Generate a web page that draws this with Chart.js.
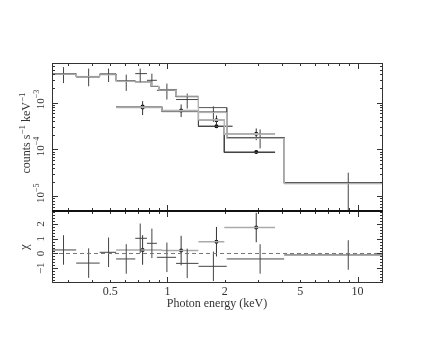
<!DOCTYPE html>
<html>
<head>
<meta charset="utf-8">
<script src="https://cdn.jsdelivr.net/npm/chart.js@4.4.1/dist/chart.umd.min.js"></script>
<style>
  html, body { margin: 0; background: #fff; }
  #wrap { position: relative; width: 436px; height: 337px; }
  #wrap canvas { position: absolute; left: 0; top: 0; }
</style>
</head>
<body>
<div id="wrap">
  <canvas id="spec" width="436" height="337"></canvas>
  <canvas id="resid" width="436" height="337"></canvas>
</div>
<script>
// ---- spectrum without markers (keV, counts/s/keV) ----
const pnE    = [0.284, 0.385, 0.49, 0.607, 0.719, 0.828, 0.993, 1.27, 1.744, 3.07, 8.93];
const pnLo   = [0.247, 0.331, 0.44, 0.537, 0.677, 0.78, 0.88, 1.11, 1.455, 2.05, 4.11];
const pnHi   = [0.331, 0.44, 0.537, 0.677, 0.78, 0.88, 1.11, 1.455, 2.05, 4.11, 13.6];
const pnRate = [4.0e-3, 3.5e-3, 4.07e-3, 2.84e-3, 4.14e-3, 2.98e-3, 1.83e-3, 1.16e-3, 6.3e-4, 1.77e-4, 1.95e-5];
const pnUp   = [5.7e-3, 5.3e-3, 5.3e-3, 3.94e-3, 5.3e-3, 4.14e-3, 2.54e-3, 1.55e-3, 8.3e-4, 2.67e-4, 3.2e-5];
const pnDn   = [2.6e-3, 2.22e-3, 2.74e-3, 1.77e-3, 2.6e-3, 2.15e-3, 1.16e-3, 7.45e-4, 3.87e-4, 1.05e-4, 1e-6];

// ---- spectra with dots ----
const m1E    = [0.74, 1.18, 1.81, 2.93];
const m1Lo   = [0.537, 0.935, 1.455, 1.99];
const m1Hi   = [0.935, 1.455, 1.99, 3.68];
const m1Rate = [7.8e-4, 6.75e-4, 4.2e-4, 2.15e-4];
const m1Up   = [1.07e-3, 9.1e-4, 5.3e-4, 2.8e-4];
const m1Dn   = [5.4e-4, 4.9e-4, 3.2e-4, 1.58e-4];

const m2E    = [0.74, 1.81, 2.93];
const m2Lo   = [0.537, 1.455, 1.99];
const m2Hi   = [0.935, 2.2, 3.68];
const m2Rate = [8.2e-4, 3.13e-4, 8.8e-5];
const m2Up   = [8.8e-4, 3.4e-4, 9.5e-5];
const m2Dn   = [7.6e-4, 2.9e-4, 8.1e-5];

// ---- folded models (bin edges + values) ----
const pnEdges  = [0.247, 0.331, 0.44, 0.537, 0.677, 0.82, 0.90, 1.11, 1.455, 2.05, 4.11, 13.6];
const pnModel  = [4.1e-3, 3.6e-3, 4.0e-3, 2.9e-3, 2.75e-3, 2.2e-3, 1.9e-3, 1.33e-3, 7.8e-4, 1.8e-4, 1.95e-5];
const pnModelB = [4.0e-3, 3.55e-3, 3.9e-3, 2.8e-3, 2.7e-3, 2.25e-3, 1.85e-3, 1.38e-3, 6.1e-4, 1.72e-4, 1.85e-5];
const mEdges   = [0.537, 0.935, 1.455, 1.99, 3.68];
const m1Model  = [8.0e-4, 6.7e-4, 4.3e-4, 2.1e-4];
const m2Model  = [8.1e-4, 6.4e-4, 3.1e-4, 8.6e-5];

// ---- residuals (chi) ----
const pnChi    = [0.24, -0.65, 0.08, -0.37, 1.03, 0.69, -0.26, -0.67, -0.87, -0.37, -0.1];
const pnChiErr = [1, 1, 1, 1, 1, 1, 1, 1, 1, 1, 1];
const m1Chi    = [0.24, 0.2, 0.8, 1.76];
const m1ChiErr = [1, 1, 1, 1];

// ---- axes ----
const xMin = 0.247, xMax = 13.6;
const yMin = 4.87e-6, yMax = 6.97e-3;
const chiMin = -2.0, chiMax = 2.88;
const xLabelTicks = [0.5, 1, 2, 5, 10];
const xMajorTicks = [1, 10];
const xMinorTicks = [0.3, 0.4, 0.5, 0.6, 0.7, 0.8, 0.9, 2, 3, 4, 5, 6, 7, 8, 9];
const yTopTicks = [1e-3, 1e-4, 1e-5];
const yTopExp = ['\u22123', '\u22124', '\u22125'];
const chiTicks = [-1, 0, 1, 2];

const FONT = '"Liberation Serif", "DejaVu Serif", serif';
const INK = '#333';

function hBars(lo, hi, v) {
  const out = [];
  v.forEach((y, i) => out.push({ x: lo[i], y }, { x: hi[i], y }, { x: hi[i], y: null }));
  return out;
}
function vBars(e, dn, up) {
  const out = [];
  e.forEach((x, i) => out.push({ x, y: dn[i] }, { x, y: up[i] }, { x, y: null }));
  return out;
}
function steps(edges, vals) {
  const out = [];
  vals.forEach((y, i) => out.push({ x: edges[i], y }, { x: edges[i + 1], y }));
  return out;
}
function pts(e, v) { return e.map((x, i) => ({ x, y: v[i] })); }
const plus = (a, b) => a.map((v, i) => v + b[i]);
const minus = (a, b) => a.map((v, i) => v - b[i]);

function lineSet(data, color, width, dash) {
  return { type: 'line', data, borderColor: color, borderWidth: width, pointRadius: 0,
           spanGaps: false, borderDash: dash || [], fill: false };
}
function dotSet(data) {
  return { type: 'scatter', data, showLine: false, pointRadius: 2, pointBackgroundColor: '#000',
           pointBorderColor: '#000', pointBorderWidth: 0 };
}

// rotated text with superscripts, centred on (x,y), reading bottom to top
function rotText(ctx, parts, x, y, size) {
  ctx.save();
  ctx.translate(x, y);
  ctx.rotate(-Math.PI / 2);
  ctx.textBaseline = 'middle';
  ctx.textAlign = 'left';
  const supSize = Math.round(size * 0.72);
  let w = 0;
  parts.forEach(([t, sup]) => { ctx.font = (sup ? supSize : size) + 'px ' + FONT; w += ctx.measureText(t).width; });
  let cx = -w / 2;
  parts.forEach(([t, sup]) => {
    ctx.font = (sup ? supSize : size) + 'px ' + FONT;
    ctx.fillText(t, cx, sup ? -size * 0.4 : 0);
    cx += ctx.measureText(t).width;
  });
  ctx.restore();
}

function drawTicks(ctx, a, sx, sy, yMajor, yMinor) {
  ctx.strokeStyle = INK;
  ctx.lineWidth = 1;
  ctx.beginPath();
  const xt = (v, len) => {
    const p = Math.round(sx.getPixelForValue(v)) + 0.5;
    ctx.moveTo(p, a.top); ctx.lineTo(p, a.top + len);
    ctx.moveTo(p, a.bottom); ctx.lineTo(p, a.bottom - len);
  };
  const yt = (v, len) => {
    const p = Math.round(sy.getPixelForValue(v)) + 0.5;
    ctx.moveTo(a.left, p); ctx.lineTo(a.left + len, p);
    ctx.moveTo(a.right, p); ctx.lineTo(a.right - len, p);
  };
  xMajorTicks.forEach(v => xt(v, 6));
  xMinorTicks.forEach(v => xt(v, 3));
  yMajor.forEach(v => yt(v, 6));
  yMinor.forEach(v => yt(v, 3));
  ctx.stroke();
  ctx.strokeRect(a.left + 0.5, a.top + 0.5, a.right - a.left - 1, a.bottom - a.top - 1);
}

const specFrame = {
  id: 'specFrame',
  afterDatasetsDraw(chart) {
    const { ctx, chartArea: a, scales } = chart;
    const minors = [];
    for (let d = -6; d <= -3; d++) for (let k = 2; k <= 9; k++) {
      const v = k * Math.pow(10, d);
      if (v > yMin && v < yMax) minors.push(v);
    }
    ctx.save();
    drawTicks(ctx, a, scales.x, scales.y, yTopTicks, minors);
    ctx.fillStyle = INK;
    yTopTicks.forEach((v, i) => {
      const p = scales.y.getPixelForValue(v);
      rotText(ctx, [['10', false], [yTopExp[i], true]], 41, p - 3, 11);
    });
    rotText(ctx, [['counts s', false], ['\u22121', true], [' keV', false], ['\u22121', true]], 27, 133, 12);
    ctx.restore();
  }
};

const residFrame = {
  id: 'residFrame',
  afterDatasetsDraw(chart) {
    const { ctx, chartArea: a, scales } = chart;
    const minors = [];
    for (let i = -10; i <= 14; i++) if (i % 5 !== 0) minors.push(i / 5);
    ctx.save();
    drawTicks(ctx, a, scales.x, scales.y, chiTicks, minors);
    // heavy separator between the panels
    ctx.strokeStyle = '#111';
    ctx.lineWidth = 2;
    ctx.beginPath(); ctx.moveTo(a.left, a.top); ctx.lineTo(a.right, a.top); ctx.stroke();
    ctx.fillStyle = INK;
    chiTicks.forEach(v => {
      rotText(ctx, [[v < 0 ? '\u2212' + Math.abs(v) : String(v), false]], 41, scales.y.getPixelForValue(v), 11);
    });
    rotText(ctx, [['\u03c7', false]], 25, 247, 13);
    ctx.font = '12px ' + FONT;
    ctx.textAlign = 'center';
    ctx.textBaseline = 'middle';
    xLabelTicks.forEach(v => ctx.fillText(String(v), scales.x.getPixelForValue(v), 292));
    ctx.fillText('Photon energy (keV)', 217, 304);
    ctx.restore();
  }
};

const common = (pad, yScale) => ({
  responsive: false,
  animation: false,
  events: [],
  layout: { padding: pad },
  plugins: { legend: { display: false }, tooltip: { enabled: false } },
  scales: {
    x: { type: 'logarithmic', min: xMin, max: xMax, display: false },
    y: Object.assign({ display: false }, yScale)
  }
});

new Chart(document.getElementById('spec'), {
  type: 'line',
  data: {
    datasets: [
      lineSet(steps(pnEdges, pnModelB), '#b4b4b4', 1),
      lineSet(steps(mEdges, m1Model), '#b4b4b4', 1.5),
      lineSet(steps(pnEdges, pnModel), '#555', 1),
      lineSet(steps(mEdges, m2Model), '#444', 1),
      lineSet(hBars(pnLo, pnHi, pnRate), '#444', 1),
      lineSet(vBars(pnE, pnDn, pnUp), '#444', 1),
      lineSet(hBars(m1Lo, m1Hi, m1Rate), '#aaa', 1.5),
      lineSet(vBars(m1E, m1Dn, m1Up), '#333', 1),
      lineSet(hBars(m2Lo, m2Hi, m2Rate), '#222', 1),
      lineSet(vBars(m2E, m2Dn, m2Up), '#222', 1),
      dotSet(pts(m1E, m1Rate)),
      dotSet(pts(m2E, m2Rate))
    ]
  },
  options: common({ left: 52, right: 53, top: 63, bottom: 126 },
                  { type: 'logarithmic', min: yMin, max: yMax }),
  plugins: [specFrame]
});

new Chart(document.getElementById('resid'), {
  type: 'line',
  data: {
    datasets: [
      lineSet([{ x: xMin, y: 0 }, { x: xMax, y: 0 }], '#777', 1, [4, 3]),
      lineSet(hBars(pnLo, pnHi, pnChi), '#444', 1),
      lineSet(vBars(pnE, minus(pnChi, pnChiErr), plus(pnChi, pnChiErr)), '#444', 1),
      lineSet(hBars(m1Lo, m1Hi, m1Chi), '#aaa', 1.5),
      lineSet(vBars(m1E, minus(m1Chi, m1ChiErr), plus(m1Chi, m1ChiErr)), '#333', 1),
      dotSet(pts(m1E, m1Chi))
    ]
  },
  options: common({ left: 52, right: 53, top: 211, bottom: 54 },
                  { type: 'linear', min: chiMin, max: chiMax }),
  plugins: [residFrame]
});
</script>
</body>
</html>
